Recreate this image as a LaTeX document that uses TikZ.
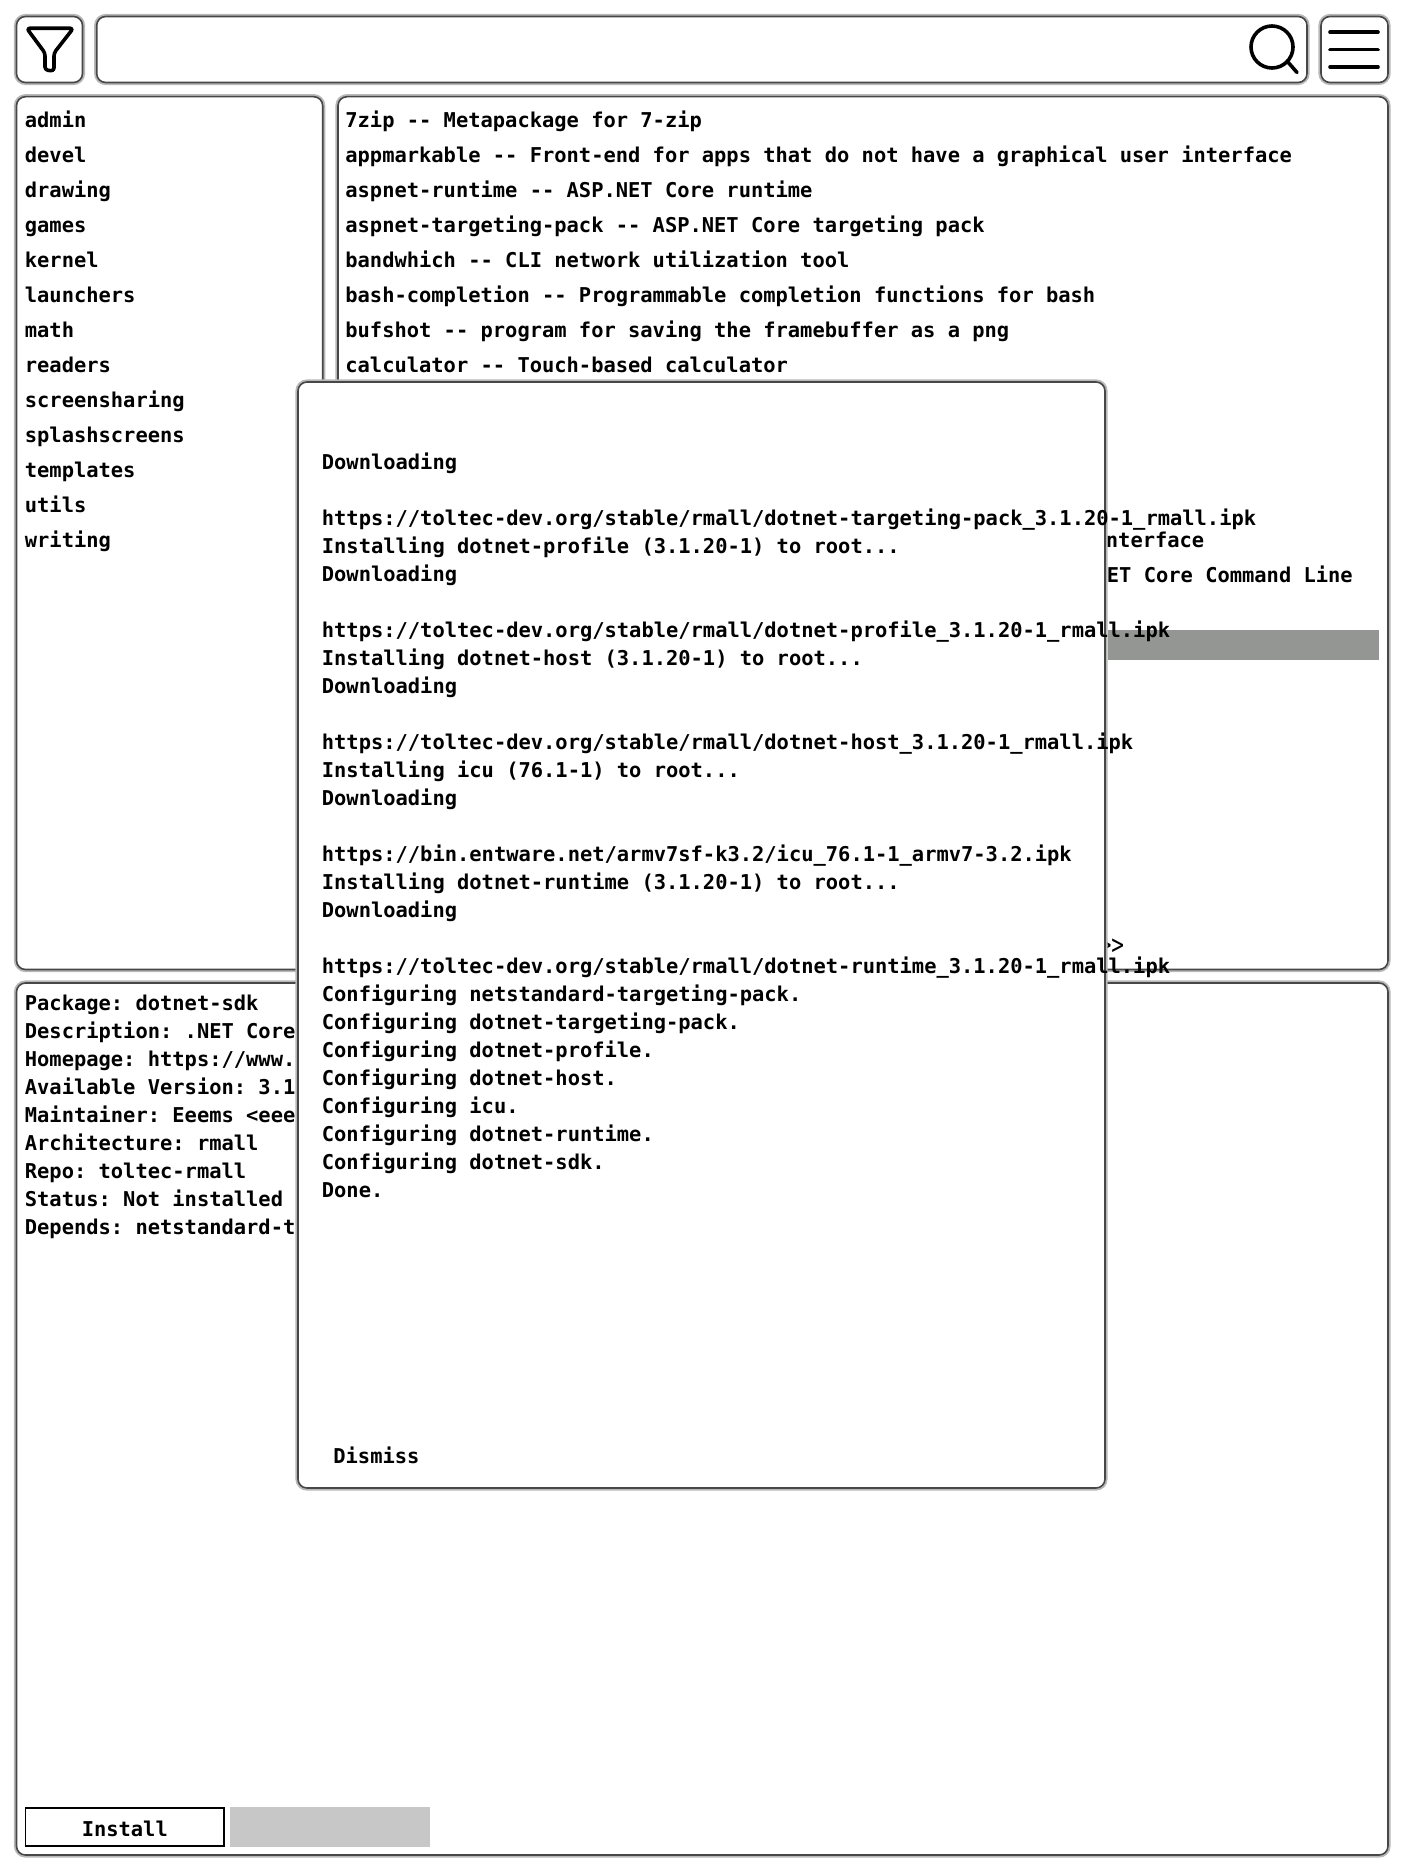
\documentclass[tikz,border=0pt]{standalone}
\usepackage{fontspec}
\usepackage{graphicx}
\usepackage{tikz}
\newfontfamily\uifont{DejaVu Sans Mono}[Ligatures=NoCommon]
\frenchspacing
\definecolor{selgray}{HTML}{949694}
\tikzset{panel/.style = {fill=white, draw=black!72, line width=0.8pt, rounded corners=4.5pt, preaction={draw=black!28, line width=2.6pt, rounded corners=4.5pt}}}
\tikzset{label/.style = {anchor=base west, inner sep=0pt, font=\uifont\bfseries\fontsize{10.21}{12}\selectfont}}
\tikzset{icon/.style = {draw=black, line width=1.8pt, line cap=round, line join=round}}

\begin{document}
\begin{tikzpicture}[x=0.5pt, y=-0.5pt]
  \useasboundingbox [fill=white] (0,0) rectangle (1404,1872);

  % top bar
  \draw [panel] (16.5,16.5) rectangle (82.5,82.5);
  \draw [panel] (96.7,16.5) rectangle (1307,82.5);
  \draw [panel] (1321,16.5) rectangle (1388,82.5);
  \draw [icon, rounded corners=1.5pt] (26.7,28.3) -- (73.3,28.3) -- (54,53) -- (54,71) -- (45,70) -- (45,53) -- cycle;
  \draw [icon] (1272,47) circle (21);
  \draw [icon] (1287,61) -- (1297,72.5);
  \foreach \y in {32.3,49.7,67}
    \draw [icon] (1330,\y) -- (1378,\y);

  % panels
  \draw [panel] (16.5,96.7) rectangle (322.7,969.5);
  \draw [panel] (338,96.7) rectangle (1388,969.5);
  \draw [panel] (16.5,983) rectangle (1388,1855);

  \foreach \i/\cat in {0/admin,1/devel,2/drawing,3/games,4/kernel,5/launchers,6/math,7/readers,8/screensharing,9/splashscreens,10/templates,11/utils,12/writing}
    \node [label] (cat\i) at (24.5,{127.7+35*\i}) {\cat};

  \foreach \i/\pkg in {0/7zip -- Metapackage for 7-zip,1/appmarkable -- Front-end for apps that do not have a graphical user interface,2/aspnet-runtime -- ASP.NET Core runtime,3/aspnet-targeting-pack -- ASP.NET Core targeting pack,4/bandwhich -- CLI network utilization tool,5/bash-completion -- Programmable completion functions for bash,6/bufshot -- program for saving the framebuffer as a png,7/calculator -- Touch-based calculator}
    \node [label] (pkg\i) at (345,{127.7+35*\i}) {\pkg};
  \node [label] (pkg12) at (1105.5,547.7) {nterface};
  \node [label] (pkg13) at (1106.5,582.7) {ET Core Command Line};
  \fill [fill=selgray] (1108,630) rectangle (1379,660);
  \node [label, font=\uifont\fontsize{14}{16}\selectfont] (pager) at (1098.4,954.7) {\scalebox{.75}[1]{>>}};

  \foreach \i/\info in {0/Package: dotnet-sdk,1/Description: .NET Core,2/{Homepage: https://www.r},3/Available Version: 3.1,4/Maintainer: Eeems <eeem,5/Architecture: rmall,6/Repo: toltec-rmall,7/Status: Not installed,8/Depends: netstandard-ta}
    \node [label] (info\i) at (24.5,{1010.5+28*\i}) {\info};

  % buttons
  \draw [black, line width=0.6pt] (25.7,1808) rectangle (224,1846);
  \node [label, anchor=base] (install) at (124.8,1836) {Install};
  \fill [fill=black!22!white] (230,1807) rectangle (430,1847);

  % dialog
  \draw [panel] (298,382) rectangle (1105,1488);
  \node [label] (log0) at (321.5,469) {Downloading};
  \node [label] (log2) at (321.5,525) {https://toltec-dev.org/stable/rmall/dotnet-targeting-pack\_3.1.20-1\_rmall.ipk};
  \node [label] (log3) at (321.5,553) {Installing dotnet-profile (3.1.20-1) to root...};
  \node [label] (log4) at (321.5,581) {Downloading};
  \node [label] (log6) at (321.5,637) {https://toltec-dev.org/stable/rmall/dotnet-profile\_3.1.20-1\_rmall.ipk};
  \node [label] (log7) at (321.5,665) {Installing dotnet-host (3.1.20-1) to root...};
  \node [label] (log8) at (321.5,693) {Downloading};
  \node [label] (log10) at (321.5,749) {https://toltec-dev.org/stable/rmall/dotnet-host\_3.1.20-1\_rmall.ipk};
  \node [label] (log11) at (321.5,777) {Installing icu (76.1-1) to root...};
  \node [label] (log12) at (321.5,805) {Downloading};
  \node [label] (log14) at (321.5,861) {https://bin.entware.net/armv7sf-k3.2/icu\_76.1-1\_armv7-3.2.ipk};
  \node [label] (log15) at (321.5,889) {Installing dotnet-runtime (3.1.20-1) to root...};
  \node [label] (log16) at (321.5,917) {Downloading};
  \node [label] (log18) at (321.5,973) {https://toltec-dev.org/stable/rmall/dotnet-runtime\_3.1.20-1\_rmall.ipk};
  \node [label] (log19) at (321.5,1001) {Configuring netstandard-targeting-pack.};
  \node [label] (log20) at (321.5,1029) {Configuring dotnet-targeting-pack.};
  \node [label] (log21) at (321.5,1057) {Configuring dotnet-profile.};
  \node [label] (log22) at (321.5,1085) {Configuring dotnet-host.};
  \node [label] (log23) at (321.5,1113) {Configuring icu.};
  \node [label] (log24) at (321.5,1141) {Configuring dotnet-runtime.};
  \node [label] (log25) at (321.5,1169) {Configuring dotnet-sdk.};
  \node [label] (log26) at (321.5,1197) {Done.};
  \node [label] (dismiss) at (333,1463.7) {Dismiss};
\end{tikzpicture}
\end{document}
